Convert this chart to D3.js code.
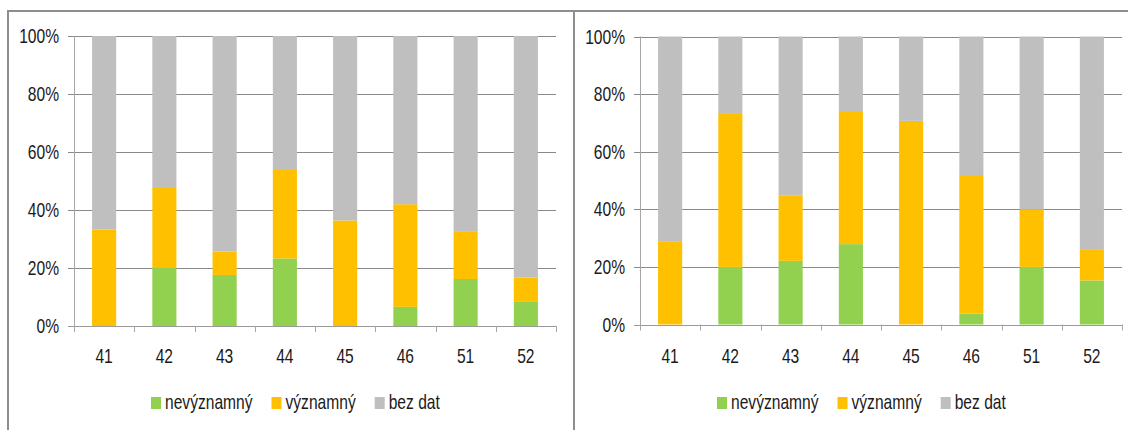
<!DOCTYPE html>
<html>
<head>
<meta charset="utf-8">
<script src="https://cdn.jsdelivr.net/npm/d3@7/dist/d3.min.js"></script>
<style>
  html, body { margin: 0; padding: 0; background: #fff; }
  svg text { font-family: "Liberation Sans", Arial, sans-serif; fill: #1a1a1a; }
</style>
</head>
<body>
<svg id="chart" width="1128" height="430"></svg>
<script>
const categories = ["41", "42", "43", "44", "45", "46", "51", "52"];
const seriesNames = ["nevýznamný", "významný", "bez dat"];
const seriesColors = ["#92D050", "#FFC000", "#BFBFBF"];
const yTicks = [0, 20, 40, 60, 80, 100];

// left panel (percent of each segment)
const leftNevyznamny = [0, 20.0, 17.6, 23.3, 0, 6.6, 16.2, 8.3];
const leftVyznamny   = [33.3, 27.6, 8.1, 30.5, 36.4, 35.4, 16.5, 8.4];
const leftBezDat     = [66.7, 52.4, 74.3, 46.2, 63.6, 58.0, 67.3, 83.3];

// right panel
const rightNevyznamny = [0, 20.0, 22.1, 27.9, 0, 3.8, 20.0, 15.3];
const rightVyznamny   = [28.7, 53.4, 22.6, 45.9, 70.7, 48.1, 20.0, 10.6];
const rightBezDat     = [71.3, 26.6, 55.3, 26.2, 29.3, 48.1, 60.0, 74.1];

const SX = 0.78;   // horizontal condensing of text
const FS = 20;

const svg = d3.select("#chart");

// frame lines
const frame = svg.append("g").attr("stroke", "#8e8e8e").attr("stroke-width", 2);
frame.append("line").attr("x1", 7).attr("x2", 1128).attr("y1", 11).attr("y2", 11);
frame.append("line").attr("x1", 8).attr("x2", 8).attr("y1", 10).attr("y2", 430);
frame.append("line").attr("x1", 574).attr("x2", 574).attr("y1", 10).attr("y2", 430);

function drawPanel(left, right, top, bottom, nev, vyz, bez) {
  const keys = seriesNames;
  const rows = categories.map((c, i) => ({
    cat: c, [keys[0]]: nev[i], [keys[1]]: vyz[i], [keys[2]]: bez[i]
  }));
  const stacked = d3.stack().keys(keys)(rows);

  const x = d3.scaleBand().domain(categories).range([left, right]).paddingInner(0.6).paddingOuter(0.3);
  const xb = d3.scaleBand().domain(categories).range([left, right]);
  const y = d3.scaleLinear().domain([0, 100]).range([bottom, top]);
  const color = d3.scaleOrdinal().domain(keys).range(seriesColors);

  const g = svg.append("g");

  // gridlines
  g.append("g").selectAll("line").data(yTicks).join("line")
    .attr("x1", left - 6).attr("x2", right)
    .attr("y1", d => Math.round(y(d)) + 0.5).attr("y2", d => Math.round(y(d)) + 0.5)
    .attr("stroke", d => d === 0 ? "#9a9a9a" : "#8a8a8a").attr("stroke-width", 1.2);

  // y-axis line
  g.append("line").attr("x1", left + 0.5).attr("x2", left + 0.5)
    .attr("y1", top).attr("y2", bottom + 6)
    .attr("stroke", "#a6a6a6").attr("stroke-width", 1);

  // x ticks at band boundaries
  const bounds = categories.map(c => xb(c)).concat([right]);
  g.append("g").selectAll("line").data(bounds.slice(1)).join("line")
    .attr("x1", d => Math.round(d) + 0.5).attr("x2", d => Math.round(d) + 0.5)
    .attr("y1", bottom).attr("y2", bottom + 6)
    .attr("stroke", "#a6a6a6").attr("stroke-width", 1);

  // bars
  g.append("g").selectAll("g").data(stacked).join("g")
    .attr("fill", d => color(d.key))
    .selectAll("rect").data(d => d).join("rect")
    .attr("x", d => x(d.data.cat))
    .attr("width", x.bandwidth())
    .attr("y", d => y(d[1]))
    .attr("height", d => y(d[0]) - y(d[1]));

  // y labels
  g.append("g").selectAll("text").data(yTicks).join("text")
    .attr("transform", d => `translate(${left - 15},${y(d) + 7}) scale(${SX},1)`)
    .attr("text-anchor", "end").attr("font-size", FS)
    .text(d => d + "%");

  // x labels
  g.append("g").selectAll("text").data(categories).join("text")
    .attr("transform", d => `translate(${xb(d) + xb.bandwidth() / 2},363) scale(${SX},1)`)
    .attr("text-anchor", "middle").attr("font-size", FS)
    .text(d => d);

  // legend
  const lg = g.append("g");
  let lx = left + 77;
  keys.forEach((k, i) => {
    lg.append("rect").attr("x", lx).attr("y", 397).attr("width", 10).attr("height", 12)
      .attr("fill", seriesColors[i]);
    const t = lg.append("text")
      .attr("transform", `translate(${lx + 14},409) scale(${SX},1)`)
      .attr("font-size", FS).text(k);
    lx += 14 + t.node().getComputedTextLength() * SX + 19;
  });
}

drawPanel(74, 556, 36, 326, leftNevyznamny, leftVyznamny, leftBezDat);
drawPanel(640, 1122, 36.5, 324.5, rightNevyznamny, rightVyznamny, rightBezDat);
</script>
</body>
</html>
